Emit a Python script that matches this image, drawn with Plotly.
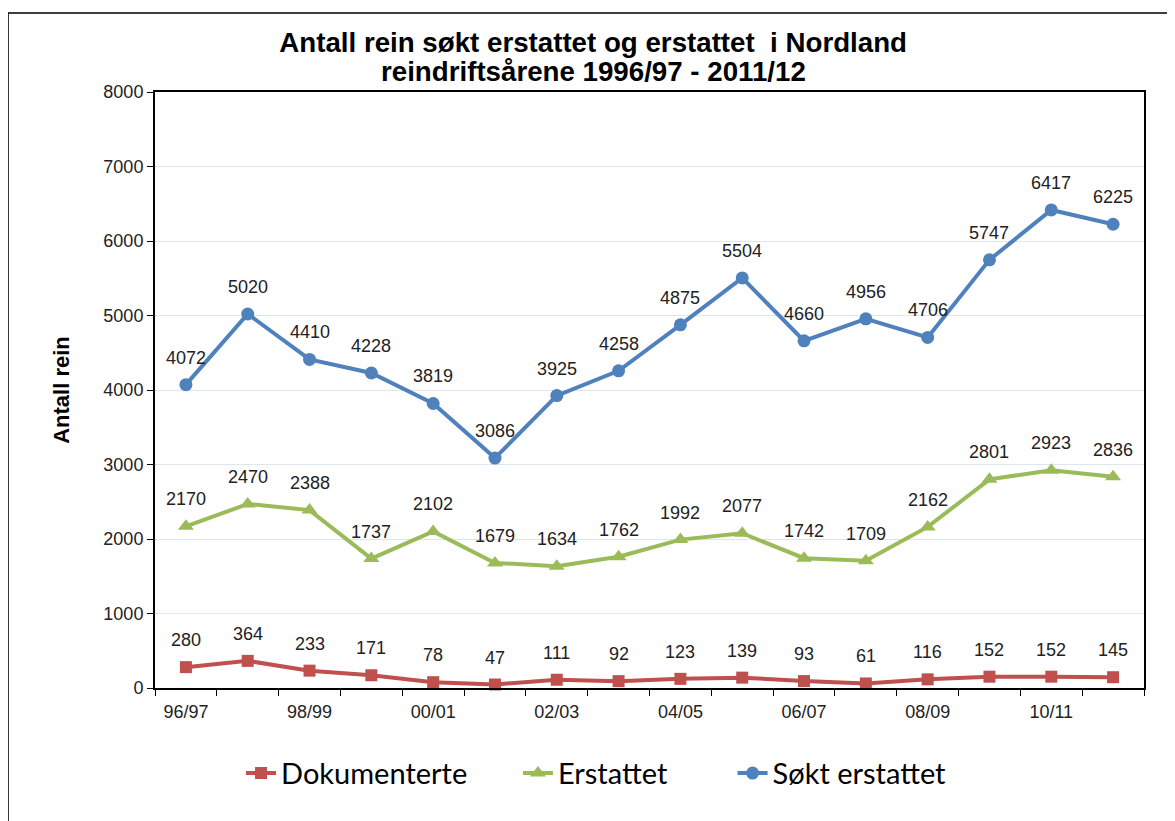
import plotly.graph_objects as go

categories = ["96/97", "97/98", "98/99", "99/00", "00/01", "01/02", "02/03", "03/04",
              "04/05", "05/06", "06/07", "07/08", "08/09", "09/10", "10/11", "11/12"]
dokumenterte = [280, 364, 233, 171, 78, 47, 111, 92, 123, 139, 93, 61, 116, 152, 152, 145]
erstattet = [2170, 2470, 2388, 1737, 2102, 1679, 1634, 1762, 1992, 2077, 1742, 1709, 2162, 2801, 2923, 2836]
sokt = [4072, 5020, 4410, 4228, 3819, 3086, 3925, 4258, 4875, 5504, 4660, 4956, 4706, 5747, 6417, 6225]

title_line1 = "Antall rein søkt erstattet og erstattet  i Nordland"
title_line2 = "reindriftsårene 1996/97 - 2011/12"

series = [
    ("Dokumenterte", dokumenterte, "#C0504D", "square", 12, "legend", 0.087),
    ("Erstattet", erstattet, "#9BBB59", "triangle-up", 14, "legend2", 0.367),
    ("Søkt erstattet", sokt, "#4F81BD", "circle", 13, "legend3", 0.584),
]

fig = go.Figure()
annotations = []
legends = {}
for name, vals, color, sym, msize, leg, lx in series:
    fig.add_trace(go.Scatter(
        x=categories, y=vals, name=name, mode="lines+markers",
        line=dict(color=color, width=4),
        marker=dict(symbol=sym, size=msize, color=color),
        cliponaxis=False, legend=leg, showlegend=True,
    ))
    legends[leg] = dict(
        orientation="h", x=lx, xanchor="left", y=-0.143, yanchor="middle",
        font=dict(family="Lato, Open Sans", size=29, color="black"),
        itemwidth=30, bgcolor="rgba(0,0,0,0)", visible=True,
    )
    for c, v in zip(categories, vals):
        annotations.append(dict(
            x=c, y=v, text=str(v), showarrow=False, yshift=27,
            xanchor="center", yanchor="middle",
            font=dict(family="Liberation Sans, Arial", size=18, color="#222"),
        ))

annotations.append(dict(
    xref="paper", yref="paper", x=0.443, y=1.0336, text=title_line2, showarrow=False,
    xanchor="center", yanchor="middle",
    font=dict(family="Liberation Sans, Arial", size=27.7, color="black", weight="bold"),
))

# The page body adds an 8px offset; margins compensate for it.
fig.update_layout(
    width=1175, height=821,
    paper_bgcolor="white", plot_bgcolor="white",
    margin=dict(l=147, r=39, t=84, b=141),
    showlegend=True,
    title=dict(
        text=title_line1,
        x=0.498, xanchor="center", y=0.9586, yanchor="middle",
        font=dict(family="Liberation Sans, Arial", size=27.7, color="black", weight="bold"),
    ),
    font=dict(family="Liberation Sans, Arial", color="#222"),
    annotations=annotations,
    shapes=[dict(type="rect", xref="paper", yref="paper",
                 x0=-0.1486, x1=1.06, y0=-0.26, y1=1.1326,
                 line=dict(color="black", width=1.5), fillcolor="rgba(0,0,0,0)", layer="below")],
    **legends,
)

fig.update_xaxes(
    type="category", tickson="boundaries", ticks="outside", ticklen=6, tickcolor="black",
    ticklabelstep=2, showgrid=False, showline=True, linecolor="black", linewidth=2,
    mirror=True, tickfont=dict(size=18, color="#222"), range=[-0.5, 15.5],
    ticklabelstandoff=6,
)
fig.update_yaxes(
    range=[0, 8000], dtick=1000, ticks="outside", ticklen=6, tickcolor="black",
    showgrid=True, gridcolor="#DCE6EC", gridwidth=1, showline=True, linecolor="black",
    linewidth=2, mirror=True, tickfont=dict(size=18, color="#222"),
    title=dict(text="<b>Antall rein</b>", font=dict(size=22, color="black"), standoff=28),
    zeroline=False,
)

fig.write_html("out.html")
